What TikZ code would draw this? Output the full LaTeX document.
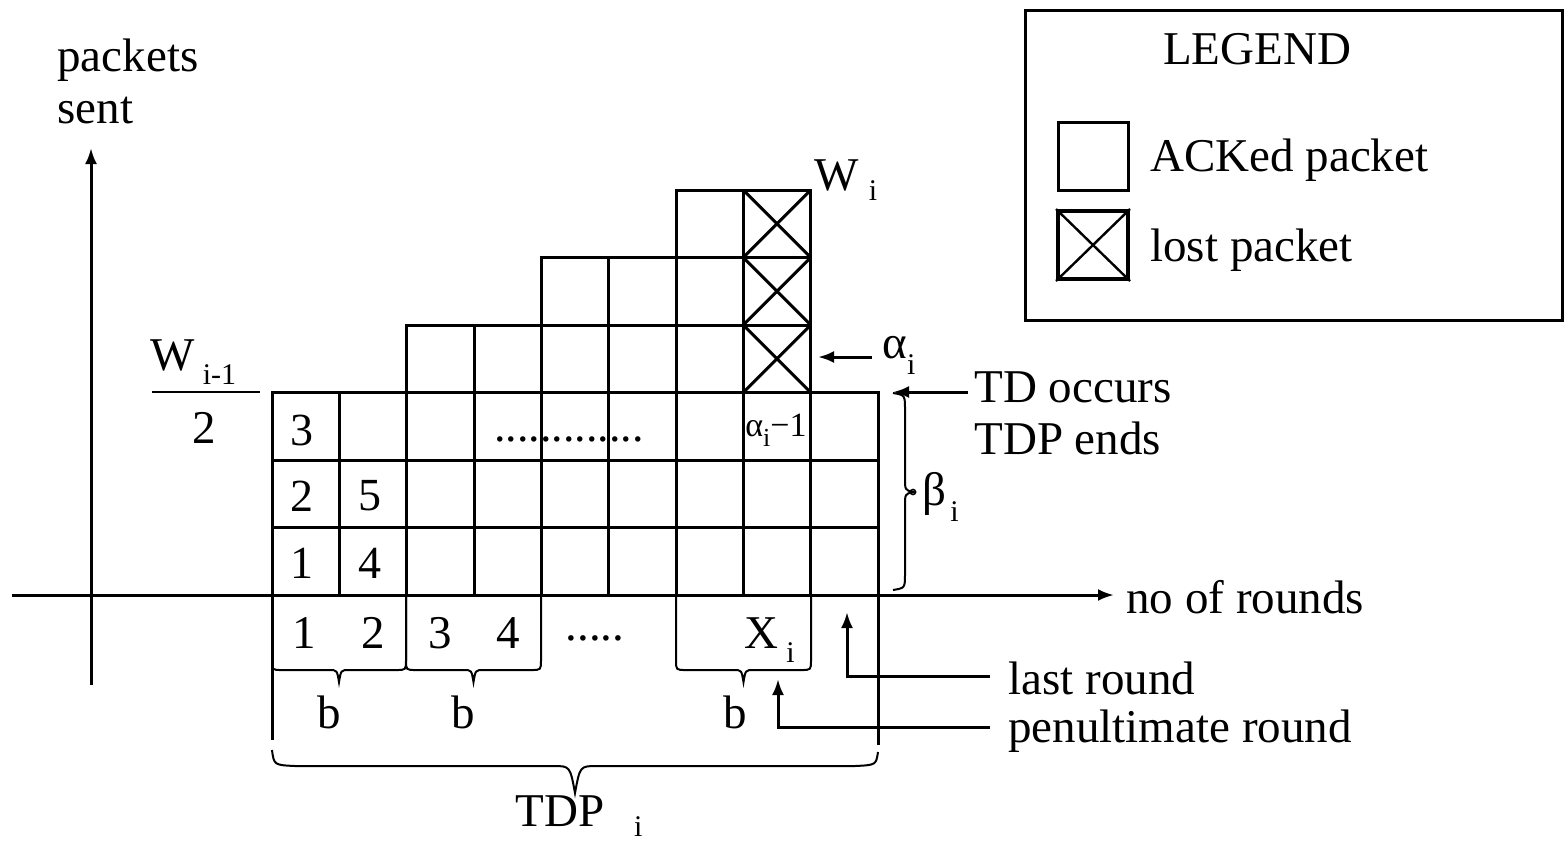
\documentclass[tikz,border=0pt]{standalone}
\usepackage{fontspec}
\setmainfont{Liberation Serif}
\usetikzlibrary{arrows.meta}
\newcommand{\lowsub}[2]{\raisebox{-#1}{\fontsize{15}{15}\selectfont #2}}
\newcommand{\bbrace}[2]{%
  \draw[brc] (#1,595) -- (#1,660) .. controls (#1,670) .. ({#1+10},670)
    -- ({(#1+#2)/2-10},670) .. controls ({(#1+#2)/2-2},670) .. ({(#1+#2)/2},682)
    .. controls ({(#1+#2)/2+2},670) .. ({(#1+#2)/2+10},670)
    -- ({#2-10},670) .. controls (#2,670) .. (#2,660) -- (#2,595);}
\begin{document}
\begin{tikzpicture}[x=0.5pt,y=-0.5pt,
  txt/.style={font=\fontsize{23.5}{28}\selectfont, inner sep=0pt},
  dig/.style={font=\fontsize{23}{26}\selectfont, inner sep=0pt},
  grid/.style={line width=1.5pt, line join=miter},
  brc/.style={line width=1pt},
  arr/.style={line width=1.5pt, -{Latex[length=8pt,width=6pt]}}]
\useasboundingbox (0,0) rectangle (1564,843);
% cells
\def\cw{67.333}
\def\ch{67.5}
\foreach \c/\n in {0/3,1/3,2/4,3/4,4/5,5/5,6/6,7/6,8/3}{
  \foreach \r in {1,...,\n}{
    \draw[grid] ({272+\c*\cw},{595-(\r-1)*\ch}) rectangle ({272+(\c+1)*\cw},{595-\r*\ch});
  }
}
\foreach \r in {4,5,6}{
  \draw[grid] ({272+7*\cw},{595-(\r-1)*\ch}) -- ({272+8*\cw},{595-\r*\ch});
  \draw[grid] ({272+8*\cw},{595-(\r-1)*\ch}) -- ({272+7*\cw},{595-\r*\ch});
}
% axes
\coordinate (xs) at (12,595);
\coordinate (xe) at (1114,595);
\coordinate (ys) at (91,685);
\coordinate (ye) at (91,148);
\draw[arr] (xs) -- (xe);
\draw[arr] (ys) -- (ye);
\node[txt, anchor=west] (xlab) at (1126,597) {no of rounds};
\node[txt, anchor=west] (ylab1) at (57,60) {packets};
\node[txt, anchor=west] (ylab2) at (57,110) {sent};
% cell numbers
\node[dig] (n3) at (302,430) {3};
\node[dig] (n2) at (302,496) {2};
\node[dig] (n1) at (302,563) {1};
\node[dig] (n5) at (370,496) {5};
\node[dig] (n4) at (370,563) {4};
\node[dig, anchor=base] (rowdots) at (569,441) {.............};
\node[inner sep=0pt, font=\fontsize{17}{18}\selectfont] (am1) at (776,430) {α\raisebox{-5pt}{\fontsize{13}{13}\selectfont i}−1};
% W labels
\node[txt, anchor=base west] (wi) at (814,190) {W\hspace{5pt}\lowsub{5pt}{i}};
\node[txt, anchor=base west] (wim) at (150,370) {W\hspace{4pt}\lowsub{7pt}{i-1}};
\draw[line width=1pt] (152,392) -- (260,392);
\node[txt] (two) at (204,428) {2};
% alpha_i arrow
\node[txt, anchor=west] (ai) at (882,355) {α\lowsub{8pt}{i}};
\coordinate (aitip) at (818,357);
\draw[arr] ([xshift=-5pt]ai.west |- aitip) coordinate (aist) -- (aitip);
% TD occurs
\node[txt, anchor=west] (tdo) at (974,387) {TD occurs};
\node[txt, anchor=west] (tde) at (974,438) {TDP ends};
\coordinate (tdtip) at (893,392);
\draw[arr] ([xshift=-3pt]tdo.west |- tdtip) coordinate (tdst) -- (tdtip);
% beta brace
\draw[brc] (893,393) .. controls (905,395) .. (905,410) -- (905,478)
  .. controls (905,490) .. (913,492) .. controls (905,494) .. (905,506)
  -- (905,574) .. controls (905,588) .. (893,590);
\draw[line width=0.8pt] (913,492) circle (2.5);
\node[txt, anchor=west] (bi) at (922,497) {β\hspace{2pt}\lowsub{8pt}{i}};
% below axis
\draw[grid] (272,595) -- (272,740);
\draw[grid] (878,595) -- (878,745);
\bbrace{272}{406}
\bbrace{406}{541}
\bbrace{676}{811}
\node[txt] (r1) at (304,633) {1};
\node[txt] (r2) at (373,633) {2};
\node[txt] (r3) at (440,633) {3};
\node[txt] (r4) at (508,633) {4};
\node[txt, anchor=base] (rdots) at (595,640) {.....};
\node[txt, anchor=base west] (xi) at (744,648) {X\hspace{4pt}\lowsub{7pt}{i}};
\node[txt] (b1) at (329,712) {b};
\node[txt] (b2) at (463,712) {b};
\node[txt] (b3) at (735,712) {b};
% TDP brace
\draw[brc] (272,750) .. controls (274,765) .. (295,766) -- (553,766)
  .. controls (570,766) .. (575,793) .. controls (580,766) .. (597,766)
  -- (855,766) .. controls (876,765) .. (878,752);
\node[txt, anchor=base west] (tdp) at (515,826) {TDP\hspace{15pt}\lowsub{5pt}{i}};
% last / penultimate round
\node[txt, anchor=west] (last) at (1008,678) {last round};
\node[txt, anchor=west] (pen) at (1008,731) {penultimate round};
\coordinate (lasttip) at (847,612);
\coordinate (pentip) at (778,679);
\draw[arr] (last.west) ++(-9pt,1pt) coordinate (lastst) -| (lasttip);
\draw[arr] (pen.west) ++(-9pt,2pt) coordinate (penst) -| (pentip);
% legend
\draw[line width=1.5pt] (1025,10) rectangle (1562,320);
\node[txt] (leg) at (1257,49) {LEGEND};
\node[draw, line width=1.5pt, minimum width=35pt, minimum height=34pt, inner sep=0pt] (ackbox) at (1093,156) {};
\node[draw, line width=2pt, minimum width=35pt, minimum height=34pt, inner sep=0pt] (lostbox) at (1093,245) {};
\draw[line width=1.2pt] (lostbox.north west) -- (lostbox.south east);
\draw[line width=1.2pt] (lostbox.north east) -- (lostbox.south west);
\node[txt, anchor=west] (acktxt) at (1150,160) {ACKed packet};
\node[txt, anchor=west] (losttxt) at (1150,250) {lost packet};
\end{tikzpicture}
\end{document}
